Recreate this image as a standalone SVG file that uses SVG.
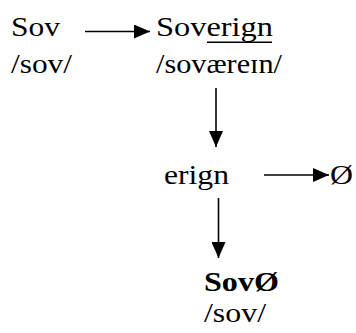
<svg xmlns="http://www.w3.org/2000/svg" width="356" height="333" viewBox="0 0 356 333">
<defs>
<style>
text{font-family:'Liberation Serif','Times New Roman',serif;font-size:28px;fill:#000}
.b{font-weight:bold}
.c{stroke:#000;stroke-width:1.6;fill:none}
</style>
<marker id="ah" markerUnits="userSpaceOnUse" markerWidth="16" markerHeight="14" refX="16" refY="7" orient="auto">
<path d="M0,0 L16,7 L0,14 z" fill="#000"/>
</marker>
</defs>
<rect width="356" height="333" fill="#fff"/>
<g id="connectors">
<line class="c" x1="85" y1="31.5" x2="150" y2="31.5" marker-end="url(#ah)"/>
<line class="c" x1="216" y1="88" x2="216" y2="147" marker-end="url(#ah)"/>
<line class="c" x1="264" y1="175" x2="329" y2="175" marker-end="url(#ah)"/>
<line class="c" x1="218.5" y1="198" x2="218.5" y2="258" marker-end="url(#ah)"/>
</g>
<g id="sov">
<text x="11" y="36" textLength="49" lengthAdjust="spacingAndGlyphs">Sov</text>
<text x="11" y="73" textLength="61" lengthAdjust="spacingAndGlyphs">/sov/</text>
</g>
<g id="soverign">
<text x="156" y="36" textLength="117" lengthAdjust="spacingAndGlyphs">Soverign</text>
<line x1="207" y1="42.3" x2="272" y2="42.3" stroke="#000" stroke-width="1.5"/>
<text x="156" y="73" textLength="126" lengthAdjust="spacingAndGlyphs">/soværeɪn/</text>
</g>
<g id="erign">
<text x="164" y="184" textLength="65" lengthAdjust="spacingAndGlyphs">erign</text>
</g>
<g id="null">
<text x="330" y="184" textLength="23" lengthAdjust="spacingAndGlyphs">Ø</text>
</g>
<g id="sov-result">
<text class="b" x="204" y="291" textLength="75" lengthAdjust="spacingAndGlyphs">SovØ</text>
<text x="204" y="322" textLength="62" lengthAdjust="spacingAndGlyphs">/sov/</text>
</g>
</svg>
